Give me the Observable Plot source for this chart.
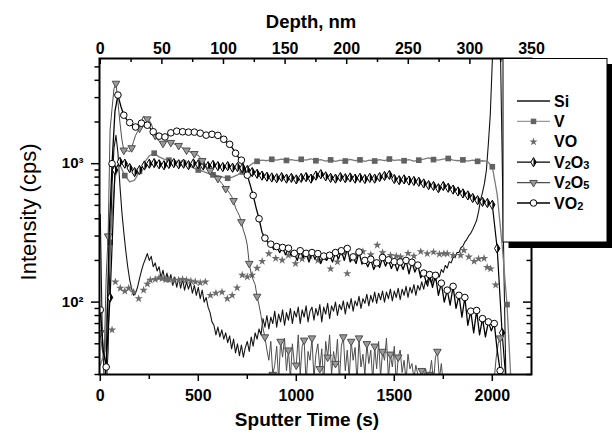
<!DOCTYPE html>
<html><head><meta charset="utf-8">
<script src="https://cdn.jsdelivr.net/npm/d3@7"></script>
<script src="https://cdn.jsdelivr.net/npm/@observablehq/plot@0.6"></script>
<style>
body{margin:0;background:#fff;}
svg{font-family:"Liberation Sans",Arial,sans-serif;}
</style></head><body><div id="chart"></div>
<script>
// ---------- axis ticks / labels ----------
const xTicks = [0, 500, 1000, 1500, 2000];
const xMinor = [250, 750, 1250, 1750];
const depthTicks = [0, 50, 100, 150, 200, 250, 300, 350];
const depthMinor = [25, 75, 125, 175, 225, 275, 325];
const depthMax = 350, timeAtDepthMax = 2200;   // 350 nm <-> 2200 s
const yTicks = [100, 1000];
const yTickLabels = ["10\u00B2", "10\u00B3"];
const yMinor = [30, 40, 50, 60, 70, 80, 90, 200, 300, 400, 500, 600, 700, 800, 900, 2000, 3000, 4000, 5000];
const legendLabels = ["Si", "V", "VO", "V2O3", "V2O5", "VO2"];

// ---------- series (cps), sampled at fixed time steps (s) ----------
const siStep = 10;
const siV = [
 430,60,28,24,45,230,700,1300,1600,1200,
 700,450,320,235,180,145,125,112,116,128,
 148,168,188,205,224,200,214,180,192,168,
 180,150,170,142,162,140,158,132,152,128,
 150,126,146,122,140,124,138,116,132,112,
 128,106,122,100,108,92,84,72,68,58,
 66,56,63,54,60,51,57,46,54,43,
 50,41,49,40,47,52,44,56,48,60,
 54,64,58,76,66,80,64,78,70,86,
 66,82,72,88,68,84,74,90,70,86,
 78,92,70,88,78,94,72,86,92,74,
 90,80,96,72,92,82,98,76,94,86,
 100,80,96,88,102,82,100,90,106,86,
 102,94,110,90,106,98,114,94,112,100,
 118,98,116,104,120,100,118,106,124,102,
 120,108,126,104,124,112,130,108,128,116,
 134,112,132,122,140,124,144,130,150,136,
 154,144,164,152,172,164,184,176,196,192,
 210,210,228,228,247,254,272,284,302,314,
 335,360,390,450,545,620,720,900,1400,2300,
 5500,9000,12000,12000,9000,1200,150,25,20,20,
 20];

const vStep = 25;
const vV = [
 35,45,270,800,980,820,740,760,
 880,1020,1140,1190,1120,1080,1060,1050,
 1030,1010,970,930,900,880,850,830,
 820,800,785,800,830,872,940,1000,
 1040,1060,1050,1075,1060,1080,1055,1070,
 1050,1075,1060,1085,1050,1070,1045,1065,
 1040,1060,1045,1075,1050,1065,1040,1060,
 1045,1070,1050,1080,1055,1065,1050,1070,
 1045,1060,1080,1100,1070,1060,1080,1090,
 1060,1050,1065,1045,1060,1040,1050,1040,
 950,600,260,96,20];

const voT = [60,77,102,125,145,170,196,221,240,255,280,300,315,335,350,375,400,420,440,462,485,510,536,562,590,621,648,673,698,724,750,775,800,826,860,895,928,960,996,1030,1070,1110,1140,1175,1210,1240,1260,1300,1340,1380,1413,1440,1481,1510,1532,1570,1600,1635,1668,1700,1730,1753,1770,1800,1838,1855,1880,1907,1930,1958,1974,1992,2017];
const voV = [63,140,126,120,126,118,106,122,135,144,146,150,148,145,146,143,144,146,144,142,140,138,140,112,116,118,106,112,127,157,152,157,176,197,224,207,201,218,190,205,215,200,210,174,195,228,161,215,232,220,258,228,218,215,212,225,215,232,224,230,222,224,224,218,218,237,212,197,205,207,178,174,133];

const v2o3Step = 25;
const v2o3V = [
 25,28,108,900,1030,1000,930,870,
 900,970,1000,1010,990,975,995,1010,
 990,1000,975,1005,990,970,960,980,
 960,945,960,935,945,930,900,870,
 845,820,805,795,785,800,780,790,
 770,790,800,780,820,840,810,790,
 780,800,785,795,780,790,775,790,
 780,800,815,830,775,760,770,755,
 750,740,720,700,690,665,690,670,
 650,630,610,590,565,545,530,520,
 505,244,60,22];

const v2o5Step = 10;
const v2o5V = [
 60,45,40,150,300,1750,2500,3500,3800,2800,
 2000,1500,1250,1230,1240,1220,1300,1450,1600,1700,
 1800,2000,2200,2150,2100,2050,1950,1750,1600,1500,
 1450,1420,1400,1420,1450,1440,1420,1400,1380,1370,
 1350,1330,1300,1280,1250,1230,1210,1200,1180,1160,
 1150,1100,1050,1000,960,920,890,860,840,820,
 780,750,720,690,660,640,610,580,540,480,
 450,420,380,330,300,258,190,160,145,134,
 110,95,80,65,56,45,38,52,30,35,
 48,27,52,40,55,32,45,28,50,36,
 35,58,30,48,53,26,44,38,55,28,
 42,50,33,46,25,52,40,58,30,44,
 36,54,27,48,56,32,45,28,52,38,
 47,26,55,34,42,30,50,36,45,27,
 48,33,52,29,44,38,55,28,42,34,
 48,26,40,45,31,38,27,42,33,36,
 28,35,30,26,32,28,33,27,30,38,
 26,40,44,28,36,25,22,20,20,20,
 20,20,20,20,20,20,20,20,20,20,
 20,20,20,20,20,20,20,20,20,20,
 22,28,40,50,55,30,20,18,18];

const vo2Step = 15;
const vo2V = [
 88,45,34,300,1000,2400,3130,2600,2240,2080,
 1980,1880,1840,1900,1960,1930,1897,1800,1700,1630,
 1580,1570,1560,1620,1670,1700,1717,1710,1700,1690,
 1690,1700,1690,1680,1660,1630,1607,1620,1630,1620,
 1600,1560,1500,1430,1380,1290,1190,1110,1060,950,
 826,700,590,480,400,320,290,270,262,240,
 252,228,248,220,245,215,225,200,235,210,
 225,195,228,205,224,190,215,200,218,195,
 228,205,235,200,244,195,212,190,230,188,
 200,180,204,172,192,178,210,182,202,175,
 196,168,195,172,200,160,194,165,185,150,
 162,135,158,128,156,112,137,100,122,95,
 130,90,112,78,108,68,86,60,87,58,
 76,56,72,62,70,45,32,22,20];

// ---------- build tables ----------
const series = (vals, step) => vals.map((v, i) => ({t: i * step, v}));
const si = series(siV, siStep);
const vS = series(vV, vStep);
const vo = voT.map((t, i) => ({t, v: voV[i]}));
const v2o3 = series(v2o3V, v2o3Step);
const v2o5 = series(v2o5V, v2o5Step);
const vo2 = series(vo2V, vo2Step);
const toTime = d => d * timeAtDepthMax / depthMax;

// ---------- custom symbols ----------
const tan30 = Math.sqrt(1 / 3);
const diamondSym = {draw(ctx, size) {
  const y = Math.sqrt(size / (2 * tan30)), x = y * tan30;
  ctx.moveTo(0, -y); ctx.lineTo(x, 0); ctx.lineTo(0, y); ctx.lineTo(-x, 0); ctx.closePath();
}};
const halfDiamondSym = {draw(ctx, size) {
  const y = Math.sqrt(size / (2 * tan30)), x = y * tan30;
  ctx.moveTo(0, -y); ctx.lineTo(x, 0); ctx.lineTo(0, y); ctx.closePath();
}};
const triDown = {draw(ctx, size) {
  const a = Math.sqrt(4 * size / Math.sqrt(3)), h = Math.sqrt(3) / 2 * a;
  ctx.moveTo(-a / 2, -h / 3); ctx.lineTo(a / 2, -h / 3); ctx.lineTo(0, 2 * h / 3); ctx.closePath();
}};

const W = 612, H = 434, mT = 58, mR = 81, mB = 60, mL = 99;
const plotW = W - mL - mR, plotH = H - mT - mB;

const chart = Plot.plot({
  width: W, height: H,
  marginTop: mT, marginRight: mR, marginBottom: mB, marginLeft: mL,
  style: {fontFamily: "'Liberation Sans', Arial, sans-serif", background: "#fff", color: "#000", overflow: "visible"},
  x: {domain: [-4, 2200]},
  y: {type: "log", domain: [30, 5750]},
  marks: [
    Plot.line(si, {x: "t", y: "v", stroke: "#141414", strokeWidth: 1.1, clip: true}),
    Plot.line(vS, {x: "t", y: "v", stroke: "#7c7c7c", strokeWidth: 1.3, clip: true}),
    Plot.dot(vS.filter((d, i) => i % 3 === 2), {x: "t", y: "v", symbol: "square", r: 3.2, fill: "#626262", clip: true}),
    Plot.dot(vo, {x: "t", y: "v", symbol: "star", r: 2.6, fill: "#6a6a6a", clip: true}),
    Plot.line(v2o3, {x: "t", y: "v", stroke: "#000", strokeWidth: 1.2, clip: true}),
    Plot.dot(v2o3, {x: "t", y: "v", symbol: diamondSym, r: 2.8, fill: "#fff", stroke: "#000", strokeWidth: 1, clip: true}),
    Plot.dot(v2o3, {x: "t", y: "v", symbol: halfDiamondSym, r: 2.8, fill: "#000", clip: true}),
    Plot.line(v2o5, {x: "t", y: "v", stroke: "#4d4d4d", strokeWidth: 1, clip: true}),
    Plot.dot(v2o5.filter((d, i) => i % 4 === 0), {x: "t", y: "v", symbol: triDown, r: 2.8, fill: "#9a9a9a", stroke: "#4d4d4d", strokeWidth: 1, clip: true}),
    Plot.line(vo2, {x: "t", y: "v", stroke: "#000", strokeWidth: 1.3, clip: true}),
    Plot.dot(vo2.filter((d, i) => i % 2 === 0), {x: "t", y: "v", symbol: "circle", r: 3.3, fill: "#fff", stroke: "#000", strokeWidth: 1, clip: true}),
    Plot.frame({stroke: "#000", strokeWidth: 2}),
    // bottom axis (time)
    Plot.axisX({ticks: xTicks, anchor: "bottom", tickSize: 7, tickPadding: 8, tickFormat: d => String(d), fontSize: 16, fontWeight: "bold", strokeWidth: 1.5, label: null}),
    Plot.axisX({ticks: xMinor, anchor: "bottom", tickSize: 5, tickFormat: () => "", strokeWidth: 1.5, label: null}),
    // top axis (depth), inward ticks
    Plot.tickX(depthTicks.map(toTime), {x: d => d, insetBottom: plotH - 6, stroke: "#000", strokeWidth: 1.5}),
    Plot.tickX(depthMinor.map(toTime), {x: d => d, insetBottom: plotH - 4, stroke: "#000", strokeWidth: 1.5}),
    Plot.axisX({ticks: depthTicks.map(toTime), anchor: "top", tickSize: 0, tickPadding: 4.5, tickFormat: t => String(Math.round(t * depthMax / timeAtDepthMax)), fontSize: 16, fontWeight: "bold", label: null}),
    // left axis
    Plot.axisY({ticks: yTicks, anchor: "left", tickSize: 8, tickPadding: 8, tickFormat: d => yTickLabels[yTicks.indexOf(d)], fontSize: 15, fontWeight: "bold", strokeWidth: 1.5, label: null}),
    Plot.axisY({ticks: yMinor, anchor: "left", tickSize: 4.5, tickFormat: () => "", strokeWidth: 1.5, label: null}),
    // right axis, inward ticks
    Plot.tickY(yTicks, {y: d => d, insetLeft: plotW - 8, stroke: "#000", strokeWidth: 1.5}),
    Plot.tickY(yMinor, {y: d => d, insetLeft: plotW - 4.5, stroke: "#000", strokeWidth: 1.5})
  ]
});
document.getElementById("chart").append(chart);

// ---------- titles ----------
const svg = d3.select(chart);
svg.append("text").attr("x", 311).attr("y", 28).attr("text-anchor", "middle")
  .attr("font-size", 18.5).attr("font-weight", "bold").attr("fill", "#000").text("Depth, nm");
svg.append("text").attr("x", 307).attr("y", 426).attr("text-anchor", "middle")
  .attr("font-size", 19).attr("font-weight", "bold").attr("fill", "#000").text("Sputter Time (s)");
svg.append("text").attr("transform", "translate(36,212) rotate(-90)").attr("text-anchor", "middle")
  .attr("font-size", 22).attr("fill", "#000").text("Intensity (cps)");

// ---------- legend ----------
const lg = svg.append("g").attr("text-anchor", "start");
lg.append("rect").attr("x", 508.5).attr("y", 64).attr("width", 104).attr("height", 184).attr("fill", "#000");
lg.append("rect").attr("x", 503).attr("y", 58.5).attr("width", 104).attr("height", 183.5)
  .attr("fill", "#fff").attr("stroke", "#000").attr("stroke-width", 1);
const legendStyle = [
  {line: "#141414"},
  {line: "#9a9a9a", sym: d3.symbolSquare, size: Math.PI * 3.1 * 3.1, fill: "#626262"},
  {sym: d3.symbolStar, size: Math.PI * 2.6 * 2.6, fill: "#6a6a6a"},
  {line: "#000", sym: diamondSym, size: Math.PI * 2.8 * 2.8, fill: "#fff", stroke: "#000", half: true},
  {line: "#4d4d4d", sym: triDown, size: Math.PI * 2.8 * 2.8, fill: "#9a9a9a", stroke: "#4d4d4d"},
  {line: "#000", sym: d3.symbolCircle, size: Math.PI * 3.3 * 3.3, fill: "#fff", stroke: "#000"}
];
legendLabels.forEach((lab, i) => {
  const y = 101 + i * 20.4, st = legendStyle[i];
  if (st.line) lg.append("line").attr("x1", 517).attr("x2", 550).attr("y1", y).attr("y2", y)
    .attr("stroke", st.line).attr("stroke-width", 1.3);
  if (st.sym) {
    lg.append("path").attr("d", d3.symbol(st.sym, st.size)()).attr("transform", `translate(533.5,${y})`)
      .attr("fill", st.fill).attr("stroke", st.stroke || "none").attr("stroke-width", 1);
    if (st.half) lg.append("path").attr("d", d3.symbol(halfDiamondSym, st.size)()).attr("transform", `translate(533.5,${y})`).attr("fill", "#000");
  }
  const tx = lg.append("text").attr("x", 554).attr("y", y + 5.5).attr("text-anchor", "start")
    .attr("font-size", 16).attr("font-weight", "bold").attr("fill", "#000");
  let prevDigit = false;
  lab.split(/(\d)/).filter(s => s).forEach(s => {
    const isDigit = /\d/.test(s);
    const ts = tx.append("tspan").text(s);
    if (isDigit) ts.attr("font-size", 11);
    if (isDigit && !prevDigit) ts.attr("dy", 1);
    if (!isDigit && prevDigit) ts.attr("dy", -1);
    prevDigit = isDigit;
  });
});
</script></body></html>
